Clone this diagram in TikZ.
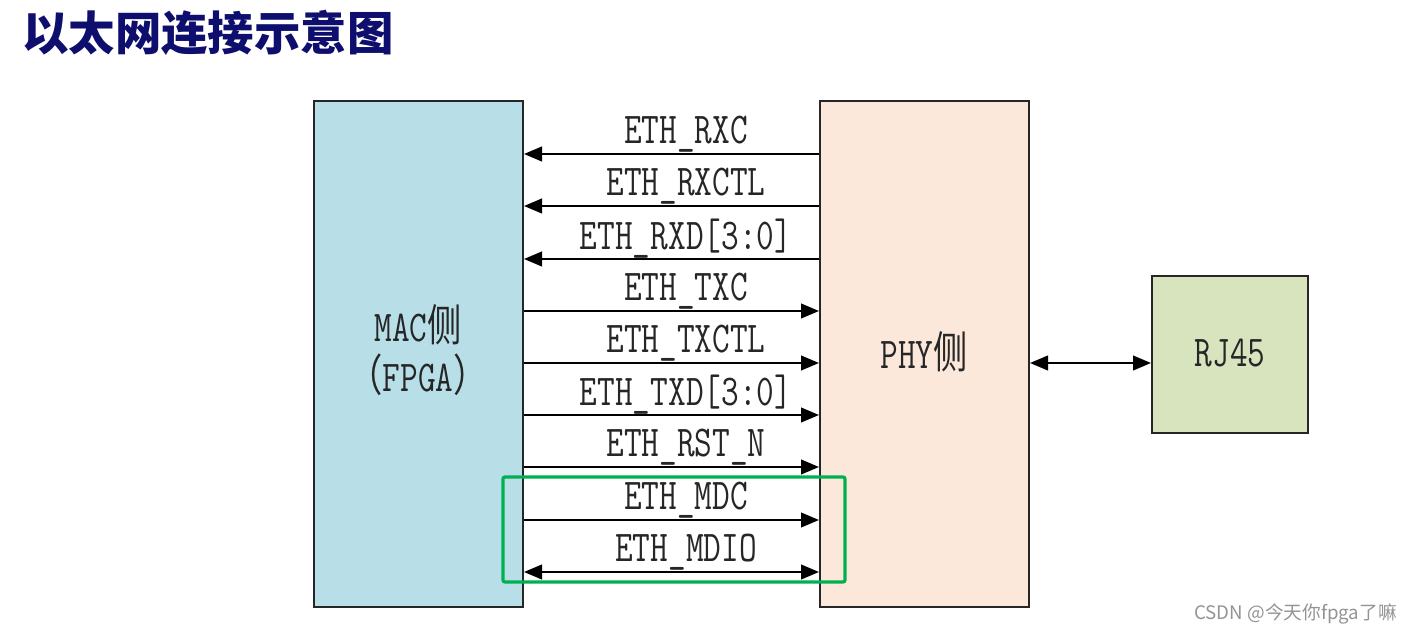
\documentclass[tikz,border=0pt]{standalone}
\usepackage{fontspec}
\usepackage{graphicx}
\usetikzlibrary{arrows.meta}
\newfontfamily\cjk{Noto Sans CJK SC}
\newcommand\nar[1]{\scalebox{0.78}[1]{#1}}
\definecolor{macfill}{HTML}{B8DFE8}
\definecolor{phyfill}{HTML}{FCE8DA}
\definecolor{rjfill}{HTML}{D8E4BE}
\definecolor{titlecol}{HTML}{0E0E6E}
\definecolor{selgreen}{HTML}{00B050}
\definecolor{boxline}{HTML}{262626}
\tikzset{
  blk/.style={draw=boxline, line width=1.5pt, inner sep=0pt},
  sig/.style={line width=1.5pt, draw=black},
  tip/.style={-{Triangle[length=13.5pt,width=11pt]}},
  lab/.style={font=\ttfamily\fontsize{33}{36}\selectfont, text=boxline, inner sep=0pt, anchor=center},
}
\begin{document}
\begin{tikzpicture}[x=0.75pt,y=-0.75pt]
\useasboundingbox (0,0) rectangle (1413,634);
\fill[white] (0,0) rectangle (1413,634);
% title
\node[anchor=west, inner sep=0pt, text=titlecol, font=\cjk\bfseries\fontsize{34.8}{40}\selectfont] (title) at (22,33) {以太网连接示意图};
% boxes
\node[blk, fill=macfill, minimum width=156.75pt, minimum height=379.5pt] (mac) at (418.5,354) {};
\node[blk, fill=phyfill, minimum width=156.75pt, minimum height=379.5pt] (phy) at (924.5,354) {};
\node[blk, fill=rjfill, minimum width=117pt, minimum height=117.75pt] (rj) at (1230,354.5) {};
\node[lab, align=center] (mact) at (418,350) {\nar{MAC{\cjk 侧}}\\[2pt]\nar{{\cjk （}FPGA{\cjk ）}}};
\node[lab] (phyt) at (924,352) {\nar{PHY{\cjk 侧}}};
\node[lab] (rjt) at (1230,353) {\nar{RJ45}};
% signals
\foreach \y/\t [count=\i] in {
  154/ETH\_RXC, 206/ETH\_RXCTL, 259/ETH\_RXD[3:0],
  311/ETH\_TXC, 363/ETH\_TXCTL, 415/ETH\_TXD[3:0],
  467/ETH\_RST\_N, 520/ETH\_MDC, 572/ETH\_MDIO}{
  \coordinate (l\i) at (mac.east |- 0,\y);
  \coordinate (r\i) at (phy.west |- 0,\y);
  \node[lab] (t\i) at (686,\y-20) {\nar{\t}};
}
\foreach \i in {1,2,3}{ \draw[sig, tip] (r\i) -- (l\i); }
\foreach \i in {4,5,6,7,8}{ \draw[sig, tip] (l\i) -- (r\i); }
\draw[sig, {Triangle[length=13.5pt,width=11pt]}-{Triangle[length=13.5pt,width=11pt]}] (l9) -- (r9);
% PHY <-> RJ45
\draw[sig, {Triangle[length=13.5pt,width=11pt]}-{Triangle[length=13.5pt,width=11pt]}] (phy.east |- 0,363) -- (rj.west |- 0,363);
% green highlight
\node[draw=selgreen, line width=2.4pt, rounded corners=1.5pt, minimum width=256.5pt, minimum height=78.75pt, inner sep=0pt] (sel) at (674,529.5) {};
% watermark
\node[anchor=east, inner sep=0pt, text=black!42, font=\cjk\fontsize{14}{16}\selectfont] (wm) at (1397,614) {CSDN @今天你fpga了嘛};
\end{tikzpicture}
\end{document}
